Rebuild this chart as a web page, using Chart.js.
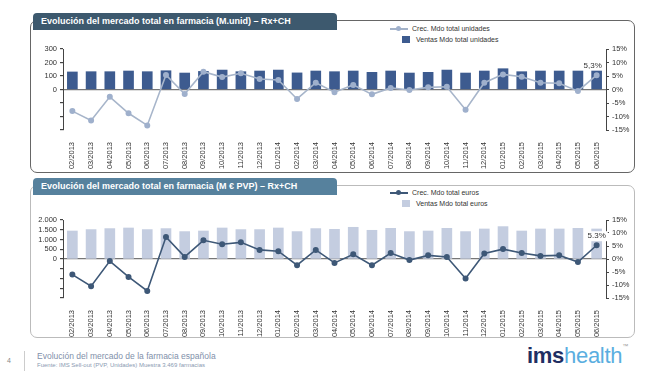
<!DOCTYPE html>
<html>
<head>
<meta charset="utf-8">
<script src="https://cdn.jsdelivr.net/npm/chart.js@4/dist/chart.umd.min.js"></script>
<style>
  body { margin: 0; background: #fff; font-family: "Liberation Sans", Arial, sans-serif; }
  #page { position: relative; width: 659px; height: 371px; overflow: hidden; }
  .box { position: absolute; border-radius: 7px; }
  .title { position: absolute; color: #fff; font-weight: bold; font-size: 9px; line-height: 17px;
           padding-left: 8px; border-radius: 4px 4px 0 0; white-space: nowrap; }
  .legend { position: absolute; font-size: 7px; color: #333; white-space: nowrap; }
  .legend div { position: relative; height: 11px; line-height: 11px; }
  .sw-line { position: absolute; left: 0; top: 5px; width: 18px; height: 1.5px; }
  .sw-dot { position: absolute; left: 6px; top: 3px; width: 5px; height: 5px; border-radius: 50%; }
  .sw-box { position: absolute; left: 12px; top: 2px; width: 8px; height: 7px; }
  canvas { position: absolute; }
  .foot { position: absolute; white-space: nowrap; }
</style>
</head>
<body>
<div id="page">
  <div class="box" style="left:30px;top:20px;width:603px;height:151px;border:1px solid #666;"></div>
  <div class="title" style="left:33px;top:13px;width:296px;background:#3d596e;">Evolución del mercado total en farmacia (M.unid) – Rx+CH</div>
  <div class="legend" style="left:390px;top:23px;">
    <div><span class="sw-line" style="background:#a3b2c8"></span><span class="sw-dot" style="background:#9fb0cc"></span><span style="margin-left:22px">Crec. Mdo total unidades</span></div>
    <div><span class="sw-box" style="background:#3d5b8f"></span><span style="margin-left:26px">Ventas Mdo total unidades</span></div>
  </div>
  <canvas id="c1"></canvas>

  <div class="box" style="left:30px;top:185px;width:603px;height:151px;border:1px solid #bbb;"></div>
  <div class="title" style="left:33px;top:178px;width:296px;background:#56819d;">Evolución del mercado total en farmacia (M € PVP) – Rx+CH</div>
  <div class="legend" style="left:390px;top:187px;">
    <div><span class="sw-line" style="background:#3e5877"></span><span class="sw-dot" style="background:#3e5877"></span><span style="margin-left:22px">Crec. Mdo total euros</span></div>
    <div><span class="sw-box" style="background:#c4cde0"></span><span style="margin-left:26px">Ventas Mdo total euros</span></div>
  </div>
  <canvas id="c2"></canvas>

  <div class="foot" style="left:7px;top:357px;font-size:7px;color:#888;">4</div>
  <div style="position:absolute;left:24px;top:351px;width:1px;height:20px;background:#ccc;"></div>
  <div class="foot" style="left:37px;top:351px;font-size:8.5px;color:#7f90aa;">Evolución del mercado de la farmacia española</div>
  <div class="foot" style="left:37px;top:362px;font-size:6px;color:#8a9ab2;">Fuente: IMS Sell-out  (PVP, Unidades) Muestra 3.469  farmacias</div>
  <div class="foot" style="left:527px;top:343px;font-size:22px;letter-spacing:-0.3px;"><span style="color:#1f2f63;font-weight:bold;">ims</span><span style="color:#5aaee0;">health</span><span style="color:#999;font-size:6px;vertical-align:top;">™</span></div>
</div>

<script>
const categories = ['02/2013','03/2013','04/2013','05/2013','06/2013','07/2013','08/2013','09/2013','10/2013','11/2013','12/2013',
  '01/2014','02/2014','03/2014','04/2014','05/2014','06/2014','07/2014','08/2014','09/2014','10/2014','11/2014','12/2014',
  '01/2015','02/2015','03/2015','04/2015','05/2015','06/2015'];

// M. unidades
const unitSales  = [130,132,132,137,132,139,122,134,144,132,137,144,123,137,132,137,127,137,122,127,144,122,137,154,132,137,137,137,137];
const unitGrowth = [-8.0,-11.5,-2.7,-8.8,-13.3,5.4,-1.7,6.6,4.6,6.0,3.9,3.5,-3.5,2.5,-1.0,1.7,-1.8,0.6,-0.2,0.8,1.0,-7.5,2.5,5.6,4.7,2.5,2.3,-0.6,5.3];

// M € PVP
const euroSales  = [1436,1508,1559,1590,1508,1559,1405,1436,1590,1508,1508,1590,1405,1559,1523,1626,1472,1574,1405,1436,1574,1405,1540,1661,1436,1540,1540,1574,1540];
const euroGrowth = [-6.0,-10.5,-0.8,-6.9,-12.3,8.5,0.8,7.2,5.7,6.4,3.5,3.0,-2.4,3.5,-1.5,1.8,-2.4,2.3,-0.4,1.4,0.8,-7.5,2.1,3.8,2.3,1.2,1.4,-1.2,5.3];

const FONT = { family: '"Liberation Sans", Arial, sans-serif', size: 7.5 };

// label on the last point of the growth line
const lastLabel = {
  id: 'lastLabel',
  afterDatasetsDraw(chart, args, opts) {
    const meta = chart.getDatasetMeta(0);
    const pt = meta.data[meta.data.length - 1];
    const ctx = chart.ctx;
    ctx.save();
    ctx.font = '8px "Liberation Sans", Arial, sans-serif';
    const w = ctx.measureText(opts.text).width;
    const x = pt.x + opts.dx, y = pt.y + opts.dy;
    if (opts.bg) {
      ctx.fillStyle = opts.bg;
      ctx.fillRect(x - w / 2 - 2, y - 5, w + 4, 10);
    }
    ctx.fillStyle = '#333';
    ctx.textAlign = 'center';
    ctx.textBaseline = 'middle';
    ctx.fillText(opts.text, x, y);
    ctx.restore();
  }
};

function makeChart(id, top, cfg) {
  const el = document.getElementById(id);
  el.style.left = '0px';
  el.style.top = top + 'px';
  el.style.width = '659px';
  el.style.height = '132px';
  el.width = 659; el.height = 132;

  return new Chart(el, {
    data: {
      labels: categories,
      datasets: [
        { type: 'line', label: cfg.lineLabel, data: cfg.growth, yAxisID: 'y1', order: 0,
          borderColor: cfg.lineColor, borderWidth: 1.6, pointBackgroundColor: cfg.dotColor,
          pointBorderColor: cfg.dotColor, pointRadius: 2.2, tension: 0 },
        { type: 'bar', label: cfg.barLabel, data: cfg.sales, yAxisID: 'y', order: 1,
          backgroundColor: cfg.barColor, barThickness: 10 }
      ]
    },
    options: {
      responsive: false,
      animation: false,
      layout: { padding: { top: cfg.padTop, left: 0, right: 0, bottom: 0 } },
      plugins: {
        legend: { display: false },
        tooltip: { enabled: false },
        lastLabel: cfg.label
      },
      scales: {
        x: {
          grid: { display: false }, border: { display: false },
          ticks: { color: '#333', font: FONT, minRotation: 90, maxRotation: 90, padding: 4, autoSkip: false },
          afterFit: s => { s.height = cfg.xHeight; }
        },
        y: {
          position: 'left', min: -cfg.max, max: cfg.max,
          border: { display: true, color: '#444', width: 1 },
          grid: { color: c => c.tick.value === 0 ? '#777' : 'transparent', lineWidth: 1.2,
                  tickColor: '#444', tickLength: 3, drawTicks: true },
          ticks: { stepSize: cfg.step, autoSkip: false, color: '#333', font: FONT, padding: 3,
                   callback: v => v >= 0 ? cfg.fmt(v) : '' },
          afterFit: s => { s.width = 63; }
        },
        y1: {
          position: 'right', min: -15, max: 15,
          border: { display: true, color: '#444', width: 1 },
          grid: { drawOnChartArea: false, tickColor: '#444', tickLength: 3 },
          ticks: { stepSize: 5, autoSkip: false, color: '#333', font: FONT, padding: 3, callback: v => v + '%' },
          afterFit: s => { s.width = 53; }
        }
      }
    },
    plugins: [lastLabel]
  });
}

makeChart('c1', 40, {
  growth: unitGrowth, sales: unitSales,
  lineLabel: 'Crec. Mdo total unidades', barLabel: 'Ventas Mdo total unidades',
  lineColor: '#a7b5ca', dotColor: '#9fb0cc', barColor: '#3d5b8f',
  max: 300, step: 100, fmt: v => String(v),
  padTop: 9, xHeight: 42,
  label: { text: '5,3%', dx: -4, dy: -9 }
});

makeChart('c2', 210, {
  growth: euroGrowth, sales: euroSales,
  lineLabel: 'Crec. Mdo total euros', barLabel: 'Ventas Mdo total euros',
  lineColor: '#3e5877', dotColor: '#3e5877', barColor: '#c4cde0',
  max: 2000, step: 500, fmt: v => v.toLocaleString('de-DE'),
  padTop: 10, xHeight: 44,
  label: { text: '5.3%', dx: 0, dy: -9, bg: '#fff' }
});
</script>
</body>
</html>
